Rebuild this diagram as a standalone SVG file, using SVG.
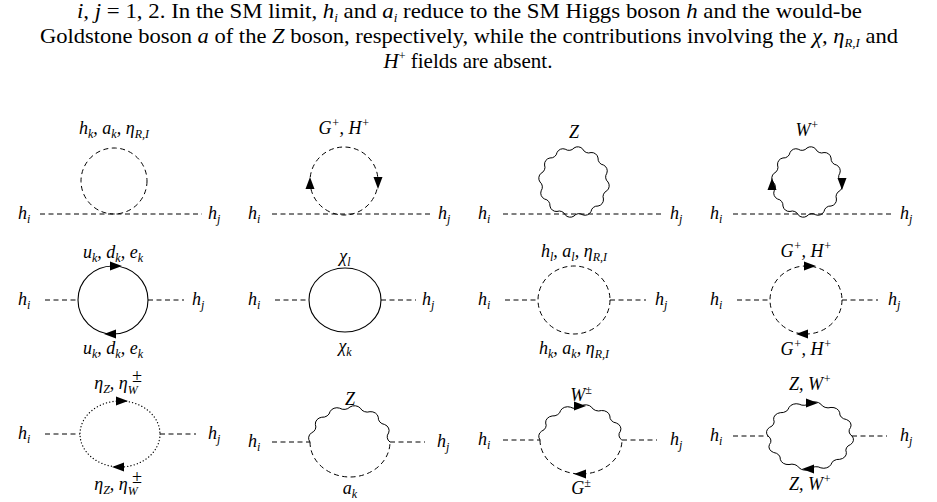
<svg xmlns="http://www.w3.org/2000/svg" xmlns:xlink="http://www.w3.org/1999/xlink" width="937" height="502" viewBox="0 0 937 502">
<style>
.cap{font-family:"Liberation Serif",serif;font-size:21px;fill:#000}
.m{font-family:"Liberation Serif",serif;font-style:italic;font-size:18px;fill:#000}
.s{font-size:12px}
.d{fill:none;stroke:#000;stroke-width:1;stroke-dasharray:5 3.5}
.sol{fill:none;stroke:#000;stroke-width:1.1}
.dot{fill:none;stroke:#000;stroke-width:1.3;stroke-dasharray:0.1 3.2;stroke-linecap:round}
.w{fill:none;stroke:#000;stroke-width:1;vector-effect:non-scaling-stroke}
</style>
<defs>
<path id="arr" d="M-6,-4.5 L6,0 L-6,4.5Z" fill="#000"/>
<path id="wfull" class="w" d="M-34,0 A6.5,6.5 0 0,1 -32.84,-8.8 A6.5,6.5 0 0,0 -29.44,-17 A6.5,6.5 0 0,1 -24.04,-24.04 A6.5,6.5 0 0,0 -17,-29.44 A6.5,6.5 0 0,1 -8.8,-32.84 A6.5,6.5 0 0,0 0,-34 A6.5,6.5 0 0,1 8.8,-32.84 A6.5,6.5 0 0,0 17,-29.44 A6.5,6.5 0 0,1 24.04,-24.04 A6.5,6.5 0 0,0 29.44,-17 A6.5,6.5 0 0,1 32.84,-8.8 A6.5,6.5 0 0,0 34,0 A6.5,6.5 0 0,1 32.84,8.8 A6.5,6.5 0 0,0 29.44,17 A6.5,6.5 0 0,1 24.04,24.04 A6.5,6.5 0 0,0 17,29.44 A6.5,6.5 0 0,1 8.8,32.84 A6.5,6.5 0 0,0 0,34 A6.5,6.5 0 0,1 -8.8,32.84 A6.5,6.5 0 0,0 -17,29.44 A6.5,6.5 0 0,1 -24.04,24.04 A6.5,6.5 0 0,0 -29.44,17 A6.5,6.5 0 0,1 -32.84,8.8 A6.5,6.5 0 0,0 -34,0"/>
<path id="whalf" class="w" d="M-34,0 A6.5,6.5 0 0,1 -32.84,-8.8 A6.5,6.5 0 0,0 -29.44,-17 A6.5,6.5 0 0,1 -24.04,-24.04 A6.5,6.5 0 0,0 -17,-29.44 A6.5,6.5 0 0,1 -8.8,-32.84 A6.5,6.5 0 0,0 0,-34 A6.5,6.5 0 0,1 8.8,-32.84 A6.5,6.5 0 0,0 17,-29.44 A6.5,6.5 0 0,1 24.04,-24.04 A6.5,6.5 0 0,0 29.44,-17 A6.5,6.5 0 0,1 32.84,-8.8 A6.5,6.5 0 0,0 34,0"/>
</defs>
<g id="caption">
<text class="cap" x="77" y="18" textLength="785" lengthAdjust="spacingAndGlyphs"><tspan font-style="italic">i, j</tspan> = 1, 2. In the SM limit, <tspan font-style="italic">h</tspan><tspan class="s" font-style="italic" dy="4">i</tspan><tspan dy="-4"> and </tspan><tspan font-style="italic">a</tspan><tspan class="s" font-style="italic" dy="4">i</tspan><tspan dy="-4"> reduce to the SM Higgs boson </tspan><tspan font-style="italic">h</tspan> and the would-be</text>
<text class="cap" x="40" y="43" textLength="858" lengthAdjust="spacingAndGlyphs">Goldstone boson <tspan font-style="italic">a</tspan> of the <tspan font-style="italic">Z</tspan> boson, respectively, while the contributions involving the <tspan font-style="italic">χ, η</tspan><tspan class="s" font-style="italic" dy="4">R,I</tspan><tspan dy="-4"> and</tspan></text>
<text class="cap" x="468" y="68" text-anchor="middle"><tspan font-style="italic">H</tspan><tspan class="s" dy="-8">+</tspan><tspan dy="8"> fields are absent.</tspan></text>
</g>
<g id="connectors">
<line class="d" x1="40" y1="214" x2="202" y2="214"/>
<line class="d" x1="272" y1="214" x2="432" y2="214"/>
<line class="d" x1="503" y1="214" x2="663" y2="214"/>
<line class="d" x1="733" y1="214" x2="893" y2="214"/>
<line class="d" x1="45" y1="300" x2="78" y2="300"/><line class="d" x1="148" y1="300" x2="184" y2="300"/>
<line class="d" x1="275" y1="300" x2="309" y2="300"/><line class="d" x1="381" y1="300" x2="416" y2="300"/>
<line class="d" x1="505" y1="300" x2="538" y2="300"/><line class="d" x1="610" y1="300" x2="646" y2="300"/>
<line class="d" x1="737" y1="300" x2="770" y2="300"/><line class="d" x1="842" y1="300" x2="878" y2="300"/>
<line class="d" x1="45" y1="434" x2="80" y2="434"/><line class="d" x1="160" y1="434" x2="196" y2="434"/>
<line class="d" x1="272" y1="442" x2="310" y2="442"/><line class="d" x1="390" y1="442" x2="425" y2="442"/>
<line class="d" x1="503" y1="440" x2="540" y2="440"/><line class="d" x1="622" y1="440" x2="657" y2="440"/>
<line class="d" x1="733" y1="436" x2="768" y2="436"/><line class="d" x1="852" y1="436" x2="887" y2="436"/>
</g>
<g id="r1d1">
<circle class="d" cx="114" cy="181" r="33"/>
<text class="m" x="18" y="219">h<tspan class="s" dy="4">i</tspan></text>
<text class="m" x="208" y="219">h<tspan class="s" dy="4">j</tspan></text>
<text class="m" x="114" y="134" text-anchor="middle">h<tspan class="s" dy="4">k</tspan><tspan dy="-4">, a</tspan><tspan class="s" dy="4">k</tspan><tspan dy="-4">, η</tspan><tspan class="s" dy="4">R,I</tspan></text>
</g>
<g id="r1d2">
<circle class="d" cx="344" cy="181" r="34"/>
<use href="#arr" transform="translate(310,183) rotate(-90)"/>
<use href="#arr" transform="translate(378,183) rotate(90)"/>
<text class="m" x="248" y="219">h<tspan class="s" dy="4">i</tspan></text>
<text class="m" x="438" y="219">h<tspan class="s" dy="4">j</tspan></text>
<text class="m" x="344" y="134" text-anchor="middle">G<tspan class="s" dy="-7">+</tspan><tspan dy="7">, H</tspan><tspan class="s" dy="-7">+</tspan></text>
</g>
<g id="r1d3">
<use href="#wfull" transform="translate(574,182)"/>
<text class="m" x="478" y="219">h<tspan class="s" dy="4">i</tspan></text>
<text class="m" x="670" y="219">h<tspan class="s" dy="4">j</tspan></text>
<text class="m" x="574" y="138" text-anchor="middle">Z</text>
</g>
<g id="r1d4">
<use href="#wfull" transform="translate(807,182)"/>
<use href="#arr" transform="translate(772,184) rotate(-90)"/>
<use href="#arr" transform="translate(842,184) rotate(90)"/>
<text class="m" x="710" y="219">h<tspan class="s" dy="4">i</tspan></text>
<text class="m" x="900" y="219">h<tspan class="s" dy="4">j</tspan></text>
<text class="m" x="807" y="136" text-anchor="middle">W<tspan class="s" dy="-7">+</tspan></text>
</g>
<g id="r2d1">
<ellipse class="sol" cx="113" cy="300" rx="35" ry="34"/>
<use href="#arr" transform="translate(116,266)"/>
<use href="#arr" transform="translate(110,334) rotate(180)"/>
<text class="m" x="18" y="305">h<tspan class="s" dy="4">i</tspan></text>
<text class="m" x="192" y="305">h<tspan class="s" dy="4">j</tspan></text>
<text class="m" x="113" y="258" text-anchor="middle">u<tspan class="s" dy="4">k</tspan><tspan dy="-4">, d</tspan><tspan class="s" dy="4">k</tspan><tspan dy="-4">, e</tspan><tspan class="s" dy="4">k</tspan></text>
<text class="m" x="113" y="354" text-anchor="middle">u<tspan class="s" dy="4">k</tspan><tspan dy="-4">, d</tspan><tspan class="s" dy="4">k</tspan><tspan dy="-4">, e</tspan><tspan class="s" dy="4">k</tspan></text>
</g>
<g id="r2d2">
<ellipse class="sol" cx="345" cy="300" rx="36" ry="32"/>
<text class="m" x="248" y="305">h<tspan class="s" dy="4">i</tspan></text>
<text class="m" x="422" y="305">h<tspan class="s" dy="4">j</tspan></text>
<text class="m" x="345" y="262" text-anchor="middle">χ<tspan class="s" dy="4">l</tspan></text>
<text class="m" x="345" y="352" text-anchor="middle">χ<tspan class="s" dy="4">k</tspan></text>
</g>
<g id="r2d3">
<ellipse class="d" cx="574" cy="300" rx="36" ry="34"/>
<text class="m" x="478" y="305">h<tspan class="s" dy="4">i</tspan></text>
<text class="m" x="655" y="305">h<tspan class="s" dy="4">j</tspan></text>
<text class="m" x="574" y="257" text-anchor="middle">h<tspan class="s" dy="4">l</tspan><tspan dy="-4">, a</tspan><tspan class="s" dy="4">l</tspan><tspan dy="-4">, η</tspan><tspan class="s" dy="4">R,I</tspan></text>
<text class="m" x="574" y="354" text-anchor="middle">h<tspan class="s" dy="4">k</tspan><tspan dy="-4">, a</tspan><tspan class="s" dy="4">k</tspan><tspan dy="-4">, η</tspan><tspan class="s" dy="4">R,I</tspan></text>
</g>
<g id="r2d4">
<ellipse class="d" cx="806" cy="300" rx="36" ry="34"/>
<use href="#arr" transform="translate(810,266)"/>
<use href="#arr" transform="translate(802,334) rotate(180)"/>
<text class="m" x="710" y="305">h<tspan class="s" dy="4">i</tspan></text>
<text class="m" x="888" y="305">h<tspan class="s" dy="4">j</tspan></text>
<text class="m" x="806" y="257" text-anchor="middle">G<tspan class="s" dy="-7">+</tspan><tspan dy="7">, H</tspan><tspan class="s" dy="-7">+</tspan></text>
<text class="m" x="806" y="355" text-anchor="middle">G<tspan class="s" dy="-7">+</tspan><tspan dy="7">, H</tspan><tspan class="s" dy="-7">+</tspan></text>
</g>
<g id="r3d1">
<ellipse class="dot" cx="120" cy="434" rx="40" ry="33"/>
<use href="#arr" transform="translate(122,401)"/>
<use href="#arr" transform="translate(118,467) rotate(180)"/>
<text class="m" x="18" y="439">h<tspan class="s" dy="4">i</tspan></text>
<text class="m" x="208" y="439">h<tspan class="s" dy="4">j</tspan></text>
<text class="m" x="116" y="389" text-anchor="middle">η<tspan class="s" dy="4">Z</tspan><tspan dy="-4">, η</tspan><tspan class="s" dy="5">W</tspan></text>
<text class="m" x="132" y="382" font-size="12">±</text>
<text class="m" x="116" y="490" text-anchor="middle">η<tspan class="s" dy="4">Z</tspan><tspan dy="-4">, η</tspan><tspan class="s" dy="5">W</tspan></text>
<text class="m" x="132" y="483" font-size="12">±</text>
</g>
<g id="r3d2">
<use href="#whalf" transform="translate(350,442) scale(1.176,1.03)"/>
<path class="d" d="M310,442 A40,35 0 0,0 390,442"/>
<text class="m" x="248" y="447">h<tspan class="s" dy="4">i</tspan></text>
<text class="m" x="437" y="447">h<tspan class="s" dy="4">j</tspan></text>
<text class="m" x="350" y="405" text-anchor="middle">Z</text>
<text class="m" x="350" y="494" text-anchor="middle">a<tspan class="s" dy="4">k</tspan></text>
</g>
<g id="r3d3">
<use href="#whalf" transform="translate(581,440) scale(1.2,1.0)"/>
<path class="d" d="M540,440 A41,34 0 0,0 622,440"/>
<use href="#arr" transform="translate(580,406)"/>
<use href="#arr" transform="translate(580,474) rotate(180)"/>
<text class="m" x="478" y="445">h<tspan class="s" dy="4">i</tspan></text>
<text class="m" x="670" y="445">h<tspan class="s" dy="4">j</tspan></text>
<text class="m" x="581" y="401" text-anchor="middle">W<tspan class="s" dy="-7">±</tspan></text>
<text class="m" x="581" y="494" text-anchor="middle">G<tspan class="s" dy="-7">±</tspan></text>
</g>
<g id="r3d4">
<use href="#wfull" transform="translate(810,436) scale(1.235,0.97)"/>
<use href="#arr" transform="translate(812,403)"/>
<use href="#arr" transform="translate(808,469) rotate(180)"/>
<text class="m" x="710" y="441">h<tspan class="s" dy="4">i</tspan></text>
<text class="m" x="900" y="441">h<tspan class="s" dy="4">j</tspan></text>
<text class="m" x="810" y="390" text-anchor="middle">Z, W<tspan class="s" dy="-7">+</tspan></text>
<text class="m" x="810" y="490" text-anchor="middle">Z, W<tspan class="s" dy="-7">+</tspan></text>
</g>
</svg>
